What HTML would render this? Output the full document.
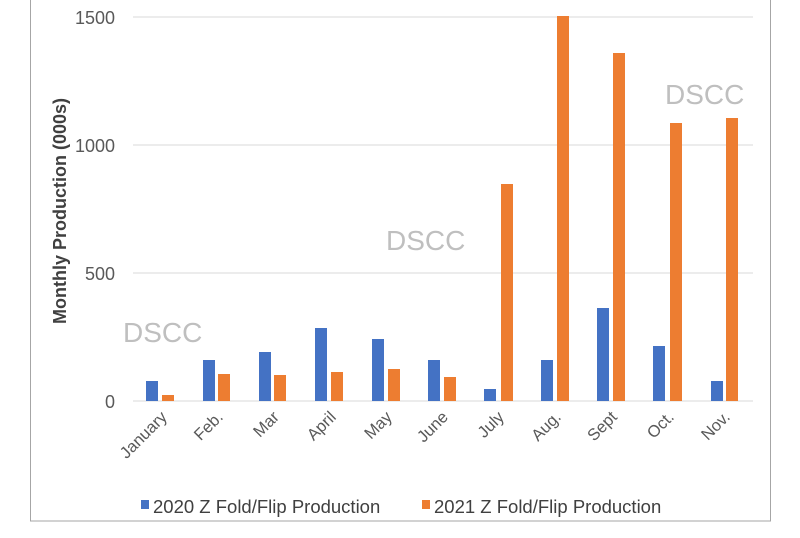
<!DOCTYPE html>
<html><head><style>
body{margin:0;background:#fff;}
svg text{font-family:"Liberation Sans",Arial,sans-serif;}
</style></head><body>
<svg width="800" height="533" viewBox="0 0 800 533" xmlns="http://www.w3.org/2000/svg">
<rect x="0" y="0" width="800" height="533" fill="#fff"/>
<rect x="30.5" y="-1" width="740" height="522" fill="none" stroke="#a6a6a6" stroke-width="1"/>
<g stroke="#d9d9d9" stroke-width="1">
<line x1="133" y1="17" x2="753" y2="17"/>
<line x1="133" y1="145" x2="753" y2="145"/>
<line x1="133" y1="273" x2="753" y2="273"/>
<line x1="133" y1="401" x2="753" y2="401"/>
</g>
<g fill="#595959" font-size="18" text-anchor="end">
<text x="115" y="24">1500</text>
<text x="115" y="152">1000</text>
<text x="115" y="280">500</text>
<text x="115" y="408">0</text>
</g>
<text transform="translate(66,211) rotate(-90)" text-anchor="middle" font-size="18" font-weight="bold" fill="#404040">Monthly Production (000s)</text>
<g fill="#4472c4">
<rect x="146" y="381" width="12" height="20"/>
<rect x="203" y="360" width="12" height="41"/>
<rect x="259" y="352" width="12" height="49"/>
<rect x="315" y="328" width="12" height="73"/>
<rect x="372" y="339" width="12" height="62"/>
<rect x="428" y="360" width="12" height="41"/>
<rect x="484" y="389" width="12" height="12"/>
<rect x="541" y="360" width="12" height="41"/>
<rect x="597" y="308" width="12" height="93"/>
<rect x="653" y="346" width="12" height="55"/>
<rect x="711" y="381" width="12" height="20"/>
</g>
<g fill="#ed7d31">
<rect x="162" y="395" width="12" height="6"/>
<rect x="218" y="374" width="12" height="27"/>
<rect x="274" y="375" width="12" height="26"/>
<rect x="331" y="372" width="12" height="29"/>
<rect x="388" y="369" width="12" height="32"/>
<rect x="444" y="377" width="12" height="24"/>
<rect x="501" y="184" width="12" height="217"/>
<rect x="557" y="16" width="12" height="385"/>
<rect x="613" y="53" width="12" height="348"/>
<rect x="670" y="123" width="12" height="278"/>
<rect x="726" y="118" width="12" height="283"/>
</g>
<g fill="#595959" font-size="16.5" text-anchor="end">
<text transform="translate(168,418) rotate(-45)">January</text>
<text transform="translate(224,418) rotate(-45)">Feb.</text>
<text transform="translate(280,418) rotate(-45)">Mar</text>
<text transform="translate(337,418) rotate(-45)">April</text>
<text transform="translate(393,418) rotate(-45)">May</text>
<text transform="translate(449,418) rotate(-45)">June</text>
<text transform="translate(505,418) rotate(-45)">July</text>
<text transform="translate(562,418) rotate(-45)">Aug.</text>
<text transform="translate(618,418) rotate(-45)">Sept</text>
<text transform="translate(675,418) rotate(-45)">Oct.</text>
<text transform="translate(731,418) rotate(-45)">Nov.</text>
</g>
<g fill="#bfbfbf" font-size="28">
<text x="123" y="342">DSCC</text>
<text x="386" y="250">DSCC</text>
<text x="665" y="104">DSCC</text>
</g>
<rect x="141" y="500" width="8" height="9" fill="#4472c4"/>
<text x="153" y="513" font-size="18.5" fill="#404040">2020 Z Fold/Flip Production</text>
<rect x="422" y="500" width="8" height="9" fill="#ed7d31"/>
<text x="434" y="513" font-size="18.5" fill="#404040">2021 Z Fold/Flip Production</text>
</svg>
</body></html>
